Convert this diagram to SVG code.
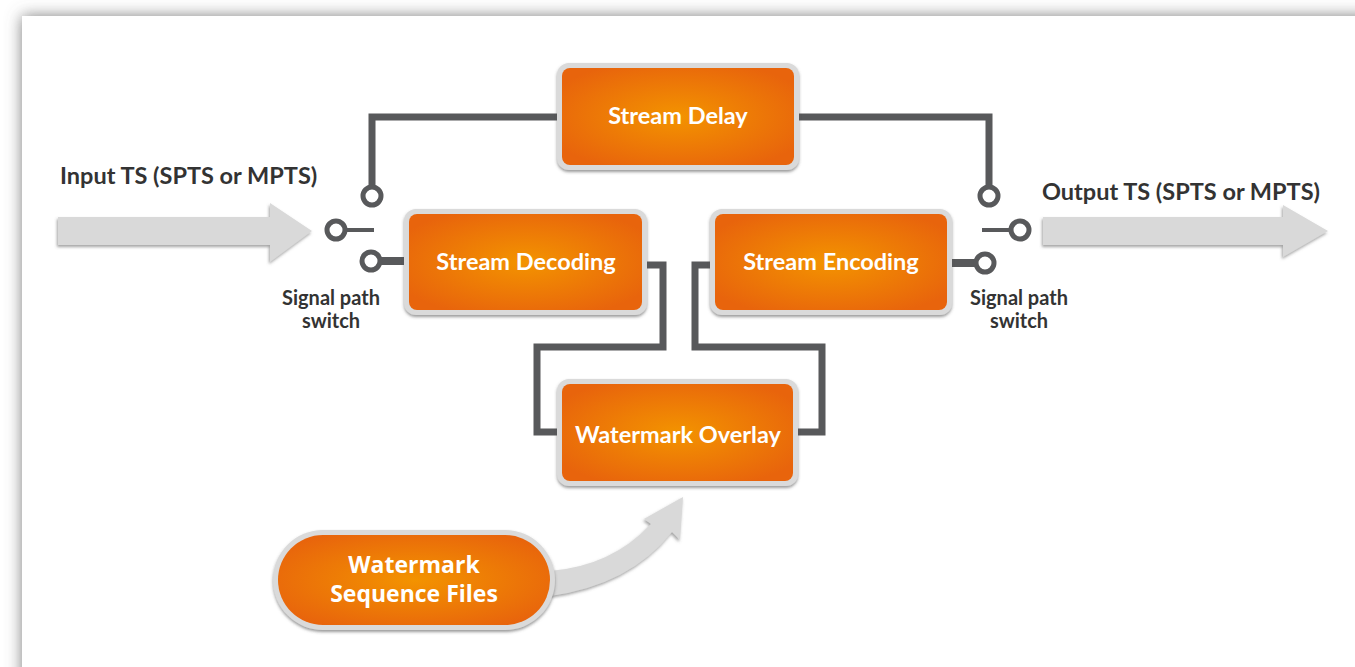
<svg xmlns="http://www.w3.org/2000/svg" width="1355" height="667" viewBox="0 0 1355 667">
<defs>
<style>
.lbl{font-family:Lato,"Open Sans",sans-serif;font-weight:700;fill:#333;}
.btxt{font-family:Lato,"Open Sans",sans-serif;font-weight:700;fill:#fff;font-size:23.5px;text-anchor:middle;}
.ptxt{font-family:"Open Sans",Lato,sans-serif;font-weight:700;fill:#fff;font-size:23px;text-anchor:middle;}
.wire{fill:none;stroke:#58595b;stroke-width:7;stroke-linejoin:miter;}
.sw{fill:#fff;stroke:#58595b;stroke-width:5;}
.frame{fill:#d9d9d9;}
</style>
<radialGradient id="og" cx="50%" cy="50%" r="60%">
<stop offset="0" stop-color="#f39300"/>
<stop offset="1" stop-color="#e8640c"/>
</radialGradient>
<filter id="pshadow" x="-5%" y="-5%" width="110%" height="110%">
<feDropShadow dx="0" dy="0" stdDeviation="8" flood-color="#666" flood-opacity="0.85"/>
</filter>
<filter id="bshadow" x="-10%" y="-10%" width="120%" height="130%">
<feDropShadow dx="0" dy="2" stdDeviation="1.5" flood-color="#555" flood-opacity="0.6"/>
</filter>
<filter id="ashadow" x="-10%" y="-20%" width="120%" height="150%">
<feDropShadow dx="-1" dy="2" stdDeviation="1.5" flood-color="#666" flood-opacity="0.6"/>
</filter>
</defs>
<rect x="0" y="0" width="1355" height="667" fill="#fff"/>
<rect id="panel" x="22" y="16" width="1360" height="680" fill="#fff" filter="url(#pshadow)"/>

<g id="connectors">
<polyline class="wire" points="372,187 372,117 560,117"/>
<polyline class="wire" points="796,117 989,117 989,187"/>
<line x1="346" y1="230" x2="374" y2="230" stroke="#58595b" stroke-width="4"/>
<line x1="982" y1="230" x2="1010" y2="230" stroke="#58595b" stroke-width="4"/>
<line x1="380" y1="261" x2="406" y2="261" stroke="#58595b" stroke-width="8"/>
<line x1="950" y1="263" x2="976" y2="263" stroke="#58595b" stroke-width="8"/>
<polyline class="wire" points="645,265 663,265 663,347 537,347 537,432 560,432"/>
<polyline class="wire" points="712,265 695,265 695,347 822,347 822,432 796,432"/>
<circle class="sw" cx="372" cy="196" r="9"/>
<circle class="sw" cx="336" cy="230" r="9"/>
<circle class="sw" cx="371" cy="261" r="9"/>
<circle class="sw" cx="989" cy="196" r="9"/>
<circle class="sw" cx="1020" cy="230" r="9"/>
<circle class="sw" cx="985" cy="263" r="9"/>
</g>

<g id="input">
<path class="frame" filter="url(#ashadow)" d="M58,217 L270,217 L270,203 L312,231 L270,262 L270,245 L58,245 Z"/>
<text class="lbl" x="60" y="184" font-size="23.5">Input TS (SPTS or MPTS)</text>
</g>
<g id="output">
<path class="frame" filter="url(#ashadow)" d="M1043,217 L1283,217 L1283,205 L1328,231 L1283,257 L1283,245 L1043,245 Z"/>
<text class="lbl" x="1042" y="200" font-size="23.5">Output TS (SPTS or MPTS)</text>
</g>

<g id="switch-left">
<text class="lbl" x="331" y="305" font-size="20" text-anchor="middle">Signal path</text>
<text class="lbl" x="331" y="328" font-size="20" text-anchor="middle">switch</text>
</g>
<g id="switch-right">
<text class="lbl" x="1019" y="305" font-size="20" text-anchor="middle">Signal path</text>
<text class="lbl" x="1019" y="328" font-size="20" text-anchor="middle">switch</text>
</g>

<g id="stream-delay">
<rect x="557" y="63" width="242" height="107" rx="12" fill="#dadada" filter="url(#bshadow)"/>
<rect x="562" y="68" width="232" height="97" rx="8" fill="url(#og)"/>
<text class="btxt" x="678" y="124">Stream Delay</text>
</g>
<g id="stream-decoding">
<rect x="404" y="209" width="243" height="106" rx="12" fill="#dadada" filter="url(#bshadow)"/>
<rect x="409" y="214" width="233" height="96" rx="8" fill="url(#og)"/>
<text class="btxt" x="526" y="270">Stream Decoding</text>
</g>
<g id="stream-encoding">
<rect x="710" y="209" width="242" height="106" rx="12" fill="#dadada" filter="url(#bshadow)"/>
<rect x="715" y="214" width="232" height="96" rx="8" fill="url(#og)"/>
<text class="btxt" x="831" y="270">Stream Encoding</text>
</g>
<g id="watermark-overlay">
<rect x="557" y="379" width="241" height="107" rx="12" fill="#dadada" filter="url(#bshadow)"/>
<rect x="562" y="384" width="231" height="97" rx="8" fill="url(#og)"/>
<text class="btxt" x="678" y="443">Watermark Overlay</text>
</g>

<g id="wm-arrow">
<path class="frame" filter="url(#ashadow)" d="M550,571 Q612,566 651,524 L644,519 L683,497 L680,540 L672,532 Q630,585 550,596 Z"/>
</g>
<g id="watermark-files">
<rect x="273" y="530" width="282" height="100" rx="50" fill="#dadada" filter="url(#bshadow)"/>
<rect x="278" y="535" width="272" height="90" rx="45" fill="url(#og)"/>
<text class="ptxt" x="414" y="573">Watermark</text>
<text class="ptxt" x="414" y="602">Sequence Files</text>
</g>
</svg>
